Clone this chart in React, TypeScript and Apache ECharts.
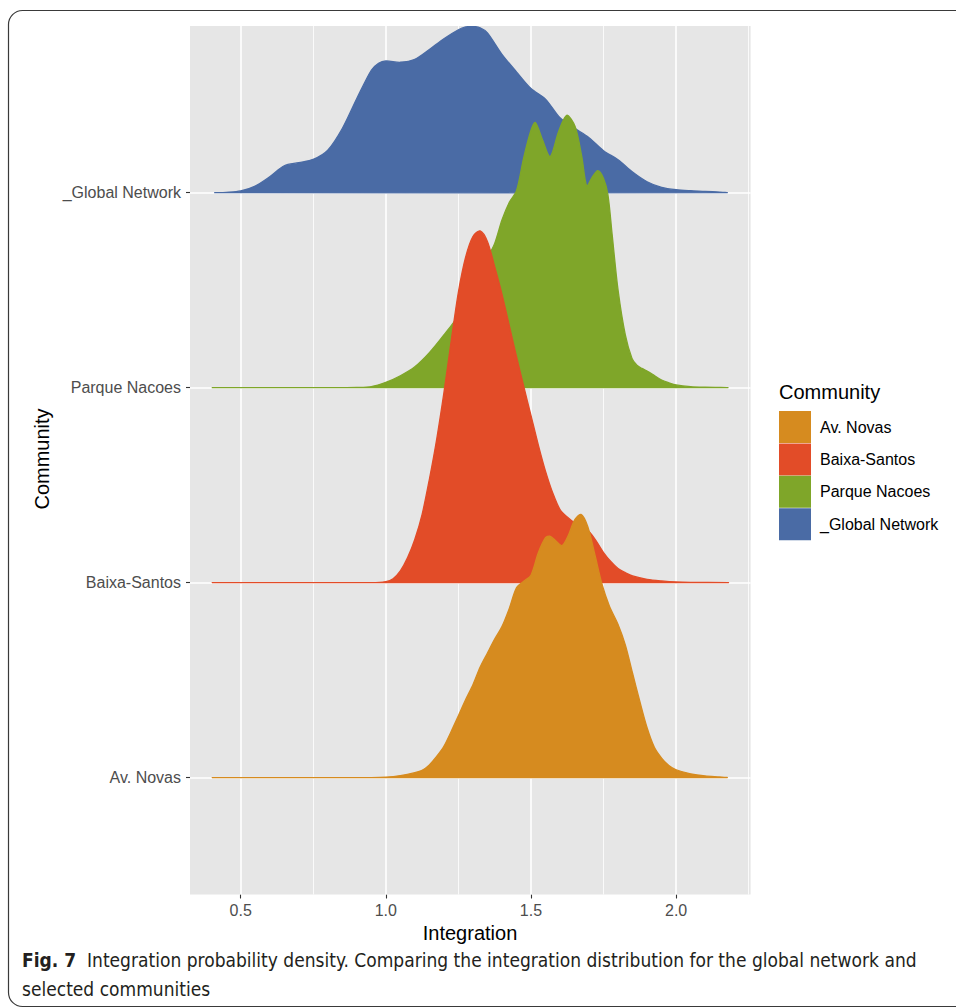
import React, { useEffect, useRef } from "react";
import * as echarts from "echarts";

// ---------- data ----------
const communities = ["_Global Network", "Parque Nacoes", "Baixa-Santos", "Av. Novas"];
const baselines = [4, 3, 2, 1];
const colors = ["#4A6BA5", "#7FA629", "#E24C28", "#D68B1F"];
const legendOrder = ["Av. Novas", "Baixa-Santos", "Parque Nacoes", "_Global Network"];
const yTickValues = [1, 2, 3, 4];
const yTickLabels = ["Av. Novas", "Baixa-Santos", "Parque Nacoes", "_Global Network"];
const xTicks = [0.5, 1.0, 1.5, 2.0];
const xMinor = [0.75, 1.25, 1.75, 2.25];

// heights are in units of ridge spacing, measured above each baseline
const globalX = [0.4125, 0.45, 0.5, 0.55, 0.6, 0.65, 0.7, 0.75, 0.8, 0.85, 0.9, 0.95, 0.975, 1.0, 1.05, 1.1, 1.15, 1.2, 1.25, 1.275, 1.3, 1.325, 1.35, 1.4, 1.45, 1.5, 1.55, 1.6, 1.65, 1.7, 1.75, 1.8, 1.85, 1.9, 1.95, 2.0, 2.05, 2.1, 2.15, 2.175];
const globalH = [0, 0.002, 0.009, 0.034, 0.082, 0.138, 0.154, 0.171, 0.218, 0.329, 0.483, 0.628, 0.664, 0.676, 0.669, 0.684, 0.734, 0.79, 0.836, 0.85, 0.853, 0.846, 0.82, 0.71, 0.62, 0.534, 0.48, 0.384, 0.331, 0.282, 0.215, 0.169, 0.106, 0.056, 0.027, 0.015, 0.01, 0.007, 0.003, 0];

const parqueX = [0.4125, 0.8, 0.9, 0.95, 1.0, 1.05, 1.1, 1.15, 1.2, 1.25, 1.275, 1.3, 1.325, 1.35, 1.375, 1.4, 1.425, 1.45, 1.475, 1.5, 1.515, 1.54, 1.566, 1.595, 1.623, 1.652, 1.675, 1.692, 1.709, 1.73, 1.75, 1.765, 1.78, 1.8, 1.825, 1.848, 1.865, 1.882, 1.9, 1.917, 1.95, 1.975, 2.0, 2.05, 2.1, 2.175];
const parqueH = [0, 0, 0.001, 0.005, 0.027, 0.061, 0.107, 0.179, 0.27, 0.37, 0.45, 0.55, 0.62, 0.67, 0.74, 0.86, 0.95, 1.01, 1.18, 1.32, 1.36, 1.27, 1.185, 1.313, 1.397, 1.339, 1.185, 1.034, 1.075, 1.113, 1.073, 0.99, 0.78, 0.5, 0.27, 0.15, 0.115, 0.099, 0.085, 0.07, 0.039, 0.025, 0.014, 0.005, 0.002, 0];

const baixaX = [0.4125, 0.95, 1.0, 1.025, 1.05, 1.075, 1.1, 1.125, 1.15, 1.175, 1.2, 1.225, 1.25, 1.275, 1.3, 1.325, 1.35, 1.375, 1.4, 1.425, 1.45, 1.475, 1.5, 1.525, 1.55, 1.575, 1.6, 1.625, 1.65, 1.675, 1.7, 1.725, 1.75, 1.775, 1.8, 1.825, 1.85, 1.9, 1.95, 2.0, 2.05, 2.175];
const baixaH = [0, 0, 0.005, 0.02, 0.06, 0.128, 0.222, 0.35, 0.53, 0.734, 0.973, 1.237, 1.49, 1.67, 1.775, 1.804, 1.75, 1.62, 1.48, 1.32, 1.16, 1.007, 0.858, 0.708, 0.572, 0.46, 0.375, 0.336, 0.307, 0.29, 0.262, 0.213, 0.154, 0.108, 0.072, 0.051, 0.034, 0.017, 0.0085, 0.003, 0.001, 0];

const novasX = [0.4125, 0.95, 1.0, 1.05, 1.1, 1.125, 1.15, 1.175, 1.2, 1.225, 1.25, 1.275, 1.3, 1.325, 1.35, 1.375, 1.4, 1.425, 1.45, 1.475, 1.5, 1.525, 1.55, 1.565, 1.585, 1.607, 1.628, 1.65, 1.672, 1.695, 1.72, 1.745, 1.77, 1.8, 1.825, 1.85, 1.875, 1.9, 1.925, 1.95, 1.975, 2.0, 2.05, 2.1, 2.15, 2.175];
const novasH = [0, 0, 0.002, 0.01, 0.025, 0.037, 0.065, 0.108, 0.16, 0.236, 0.317, 0.4, 0.476, 0.567, 0.639, 0.71, 0.774, 0.866, 0.973, 1.007, 1.038, 1.152, 1.23, 1.238, 1.215, 1.19, 1.24, 1.32, 1.35, 1.29, 1.144, 0.99, 0.88, 0.785, 0.68, 0.535, 0.39, 0.255, 0.155, 0.1, 0.062, 0.04, 0.019, 0.008, 0.003, 0];

const ridgeXs = [globalX, parqueX, baixaX, novasX];
const ridgeHs = [globalH, parqueH, baixaH, novasH];

const captionBold = "Fig. 7";
const captionLine1 = "Integration probability density. Comparing the integration distribution for the global network and";
const captionLine2 = "selected communities";

const FONT = "'Liberation Sans', Arial, Helvetica, sans-serif";

function pickCaptionFont(): { family: string; size: number } {
  const ctx = document.createElement("canvas").getContext("2d");
  const cands = ["Liberation Sans Narrow", "DejaVu Sans Condensed", "Liberation Sans"];
  if (!ctx) return { family: "Liberation Sans", size: 17 };
  const sample = "Integration probability density. Comparing";
  ctx.font = "20px monospace";
  const base = ctx.measureText(sample).width;
  let family = "Liberation Sans";
  for (const f of cands) {
    ctx.font = `20px "${f}", monospace`;
    if (Math.abs(ctx.measureText(sample).width - base) > 0.5) { family = f; break; }
  }
  ctx.font = `bold 20px "${family}"`;
  const wb = ctx.measureText(captionBold).width;
  ctx.font = `20px "${family}"`;
  const wr = ctx.measureText("  " + captionLine1).width;
  const target = 917 - 22;
  let size = (20 * target) / (wb + wr);
  size = Math.max(14, Math.min(21, size));
  return { family, size };
}

export default function App() {
  const ref = useRef<HTMLDivElement>(null);
  useEffect(() => {
    if (!ref.current) return;
    const chart = echarts.init(ref.current, null, { renderer: "svg" });
    const cap = pickCaptionFont();

    const gridLineData: any[] = [
      ...xTicks.map((v) => ({ xAxis: v, lineStyle: { color: "#ffffff", width: 1.6, type: "solid" } })),
      ...xMinor.map((v) => ({ xAxis: v, lineStyle: { color: "#ffffff", width: 0.8, type: "solid" } })),
      ...yTickValues.map((v) => ({ yAxis: v, lineStyle: { color: "#ffffff", width: 1.6, type: "solid" } })),
    ];

    const series: any[] = communities.map((name, k) => {
      const xs = ridgeXs[k];
      const hs = ridgeHs[k];
      const base = baselines[k];
      const color = colors[k];
      const s: any = {
        type: "custom",
        name,
        coordinateSystem: "cartesian2d",
        z: 2 + k,
        clip: true,
        itemStyle: { color },
        data: xs.map((x, i) => [x, base + hs[i]]),
        renderItem: (params: any, api: any) => {
          if (params.dataIndex !== 0) return null;
          const pts = xs.map((x, i) => api.coord([x, base + hs[i]]));
          return {
            type: "polygon",
            shape: { points: pts, smooth: 0.3 },
            style: { fill: color, stroke: color, lineWidth: 1.3 },
          };
        },
      };
      if (k === 0) {
        s.markLine = {
          silent: true,
          z: 1,
          symbol: "none",
          label: { show: false },
          animation: false,
          data: gridLineData,
        };
      }
      return s;
    });

    const option: any = {
      animation: false,
      textStyle: { fontFamily: FONT },
      grid: {
        left: 190,
        right: 956 - 750.6,
        top: 26,
        bottom: 1008 - 894.5,
        show: true,
        backgroundColor: "#E6E6E6",
        borderWidth: 0,
        containLabel: false,
      },
      xAxis: {
        type: "value",
        min: 0.3255,
        max: 2.2565,
        axisLine: { show: false },
        splitLine: { show: false },
        axisTick: { show: true, customValues: xTicks, length: 4, lineStyle: { color: "#333333", width: 1.1 } },
        axisLabel: {
          customValues: xTicks,
          formatter: (v: number) => v.toFixed(1),
          fontSize: 16,
          color: "#4D4D4D",
          margin: 8,
          fontFamily: FONT,
        },
      },
      yAxis: {
        type: "value",
        min: 0.4,
        max: 4.855,
        axisLine: { show: false },
        splitLine: { show: false },
        axisTick: { show: true, customValues: yTickValues, length: 4, lineStyle: { color: "#333333", width: 1.1 } },
        axisLabel: {
          customValues: yTickValues,
          formatter: (v: number) => yTickLabels[yTickValues.indexOf(Math.round(v))] ?? "",
          fontSize: 16,
          color: "#4D4D4D",
          margin: 9,
          fontFamily: FONT,
        },
      },
      legend: {
        data: legendOrder.map((n) => ({ name: n, icon: "rect" })),
        orient: "vertical",
        left: 779,
        top: 411,
        itemWidth: 32,
        itemHeight: 32,
        itemGap: 0.4,
        padding: 0,
        selectedMode: false,
        textStyle: { fontSize: 16, color: "#000000", fontFamily: FONT, padding: [0, 0, 0, 4] },
      },
      graphic: [
        {
          type: "rect",
          silent: true,
          z: -10,
          shape: { x: 8.5, y: 10.5, width: 990, height: 996, r: 14 },
          style: { fill: "none", stroke: "#3a3a3a", lineWidth: 1.2 },
        },
        {
          type: "text",
          x: 779,
          y: 392,
          style: { text: "Community", fontSize: 20, fill: "#000", fontFamily: FONT, align: "left", verticalAlign: "middle" },
        },
        {
          type: "text",
          x: 470,
          y: 933,
          style: { text: "Integration", fontSize: 20, fill: "#000", fontFamily: FONT, align: "center", verticalAlign: "middle" },
        },
        {
          type: "text",
          x: 42,
          y: 459,
          rotation: Math.PI / 2,
          style: { text: "Community", fontSize: 20, fill: "#000", fontFamily: FONT, align: "center", verticalAlign: "middle" },
        },
        {
          type: "text",
          x: 22,
          y: 960,
          style: {
            text: "{b|" + captionBold + "}  " + captionLine1,
            fontSize: cap.size,
            fontFamily: `"${cap.family}", sans-serif`,
            fill: "#231f20",
            align: "left",
            verticalAlign: "middle",
            rich: { b: { fontWeight: "bold", fontSize: cap.size, fontFamily: `"${cap.family}", sans-serif`, fill: "#231f20" } },
          },
        },
        {
          type: "text",
          x: 22,
          y: 989,
          style: {
            text: captionLine2,
            fontSize: cap.size,
            fontFamily: `"${cap.family}", sans-serif`,
            fill: "#231f20",
            align: "left",
            verticalAlign: "middle",
          },
        },
      ],
      series,
    };
    chart.setOption(option);
    return () => chart.dispose();
  }, []);
  return (
    <div
      ref={ref}
      style={{ position: "fixed", left: 0, top: 0, width: 956, height: 1008, background: "#ffffff" }}
    />
  );
}
